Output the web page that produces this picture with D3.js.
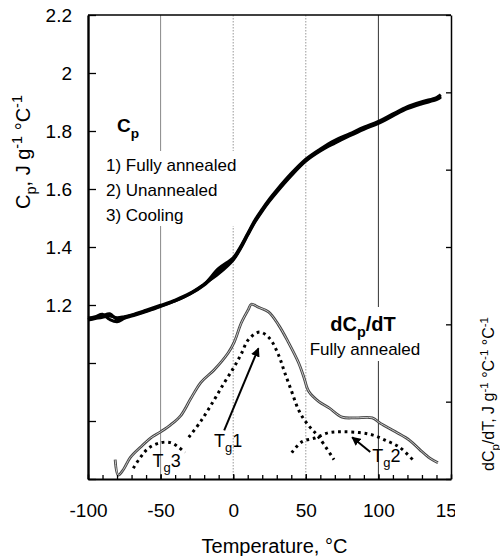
<!DOCTYPE html>
<html>
<head>
<meta charset="utf-8">
<script src="https://cdn.jsdelivr.net/npm/d3@7"></script>
<style>
  body { margin: 0; background: #fff; }
  svg { display: block; }
  text { font-family: "Liberation Sans", Arial, sans-serif; fill: #000; }
</style>
</head>
<body>
<div id="chart"></div>
<script>
// Cp curves (three runs nearly on top of each other)
const tempCp = [-100, -95, -90, -85, -80, -75, -70, -60, -50, -40, -30, -20, -10, 0, 5, 10, 15, 20, 25, 30, 40, 50, 60, 70, 80, 90, 100, 110, 120, 130, 140, 143];
const cpAnnealed = [1.150, 1.156, 1.163, 1.170, 1.150, 1.157, 1.164, 1.179, 1.196, 1.214, 1.237, 1.269, 1.316, 1.358, 1.397, 1.444, 1.489, 1.527, 1.561, 1.592, 1.649, 1.699, 1.734, 1.761, 1.786, 1.809, 1.829, 1.855, 1.880, 1.897, 1.911, 1.920];
const cpUnannealed = [1.155, 1.160, 1.168, 1.150, 1.142, 1.154, 1.162, 1.177, 1.195, 1.214, 1.238, 1.271, 1.326, 1.363, 1.401, 1.447, 1.493, 1.531, 1.566, 1.597, 1.654, 1.703, 1.738, 1.768, 1.790, 1.813, 1.833, 1.859, 1.884, 1.901, 1.915, 1.925];
const cpCooling = [1.148, 1.153, 1.158, 1.162, 1.156, 1.160, 1.166, 1.182, 1.199, 1.217, 1.240, 1.272, 1.308, 1.355, 1.394, 1.441, 1.486, 1.524, 1.558, 1.589, 1.646, 1.696, 1.731, 1.758, 1.783, 1.806, 1.826, 1.852, 1.877, 1.894, 1.908, 1.916];

// dCp/dT, fully annealed (right axis, arbitrary units)
const tempD = [-81.3, -79.2, -75.7, -70.8, -63.9, -56.9, -50, -43.1, -36.1, -29.2, -22.2, -13.2, -3.5, 0.7, 5.6, 10.4, 12.5, 17.4, 24.3, 31.3, 38.2, 45.1, 48.6, 52.1, 59, 66, 75, 84, 95.8, 101.4, 111.8, 121.5, 128.5, 135.4, 141];
const dCp = [0.25, 0.05, 0.12, 0.28, 0.41, 0.53, 0.61, 0.70, 0.82, 1.04, 1.25, 1.41, 1.63, 1.77, 2.02, 2.19, 2.26, 2.22, 2.16, 1.99, 1.76, 1.50, 1.32, 1.13, 1.00, 0.92, 0.80, 0.79, 0.79, 0.72, 0.61, 0.50, 0.38, 0.27, 0.21];

// fitted glass transition peaks (dotted)
const tempTg1 = [-30.6, -22.2, -13.2, -6.3, 0.7, 5.6, 10.4, 18.1, 25, 31.3, 35.4, 40.3, 45.1, 50.7, 59, 69.4];
const tg1 = [0.54, 0.75, 1.02, 1.24, 1.45, 1.62, 1.80, 1.90, 1.82, 1.60, 1.38, 1.13, 0.89, 0.72, 0.54, 0.25];
const tempTg2 = [40.3, 47.2, 56.3, 66, 75, 86.8, 95.8, 104.9, 114.6, 123.6];
const tg2 = [0.34, 0.48, 0.53, 0.60, 0.61, 0.60, 0.57, 0.50, 0.41, 0.25];
const tempTg3 = [-68.8, -63.9, -58.3, -50, -43.1, -37.5, -33.3];
const tg3 = [0.14, 0.28, 0.40, 0.47, 0.47, 0.41, 0.34];

// axes
const xTicks = [-100, -50, 0, 50, 100, 150];
const xTickLabels = ["-100", "-50", "0", "50", "100", "150"];
const xMinorTicks = [-100, -90, -80, -70, -60, -50, -40, -30, -20, -10, 0, 10, 20, 30, 40, 50, 60, 70, 80, 90, 100, 110, 120, 130, 140, 150];
const yTicks = [0.6, 0.8, 1.0, 1.2, 1.4, 1.6, 1.8, 2.0, 2.2];
const yTickLabels = ["", "", "", "1.2", "1.4", "1.6", "1.8", "2", "2.2"];
const rTicks = [0, 1, 2, 3, 4, 5, 6];
const gridTemps = [-50, 0, 50, 100];

// annotation anchors in data units [T, dCp]
const tgLabels = ["1", "2", "3"];
const tgLabelPos = [[-13.2, 0.42], [95.8, 0.22], [-55.6, 0.16]];
const arrowFrom = [[-6.2, 0.63], [94.4, 0.35]];
const arrowTo = [[17.4, 1.69], [81.9, 0.54]];

const width = 500, height = 556;
const margin = { top: 15, right: 49, bottom: 77, left: 88 };

const svg = d3.select("#chart").append("svg")
    .attr("width", width)
    .attr("height", height);

const x = d3.scaleLinear().domain([-100, 150]).range([margin.left, width - margin.right]);
const y = d3.scaleLinear().domain([0.6, 2.2]).range([height - margin.bottom, margin.top]);
const yR = d3.scaleLinear().domain([0, 6]).range([height - margin.bottom, margin.top]);

// text with sub/superscripts
function rich(sel, parts, fs) {
    let shift = 0;
    parts.forEach(([t, k]) => {
        const target = k === "sub" ? fs * 0.3 : k === "sup" ? -fs * 0.4 : 0;
        sel.append("tspan")
            .attr("dy", target - shift)
            .style("font-size", (k === "n" ? fs : fs * 0.72) + "px")
            .text(t);
        shift = target;
    });
    return sel;
}

// vertical grid lines
const gridStyle = [
    { stroke: "#888", dash: null },
    { stroke: "#999", dash: "1.5,1.5" },
    { stroke: "#999", dash: "1.5,1.5" },
    { stroke: "#333", dash: null }
];
svg.append("g").selectAll("line")
    .data(gridTemps)
    .join("line")
    .attr("x1", d => x(d)).attr("x2", d => x(d))
    .attr("y1", y(2.2)).attr("y2", y(0.6))
    .attr("stroke", (d, i) => gridStyle[i].stroke)
    .attr("stroke-dasharray", (d, i) => gridStyle[i].dash)
    .attr("stroke-width", 1);

// legend blocks (white boxes cover the grid lines)
const legendLeft = svg.append("g");
const legendRight = svg.append("g");

rich(legendLeft.append("text").attr("x", 117).attr("y", 132).style("font-weight", "bold"),
    [["C", "n"], ["p", "sub"]], 19);
const legendLines = legendLeft.append("g");
["1) Fully annealed", "2) Unannealed", "3) Cooling"].forEach((t, i) => {
    legendLines.append("text")
        .attr("x", 106).attr("y", 171 + i * 25)
        .style("font-size", "17px")
        .text(t);
});
const lb = legendLines.node().getBBox();
legendLines.insert("rect", ":first-child")
    .attr("x", lb.x - 4).attr("y", lb.y - 5)
    .attr("width", lb.width + 8).attr("height", lb.height + 6)
    .attr("fill", "#fff");

rich(legendRight.append("text").attr("x", 363).attr("y", 331)
        .attr("text-anchor", "middle").style("font-weight", "bold"),
    [["dC", "n"], ["p", "sub"], ["/dT", "n"]], 20);
legendRight.append("text")
    .attr("x", 365).attr("y", 355)
    .attr("text-anchor", "middle")
    .style("font-size", "17px")
    .text("Fully annealed");
const rb = legendRight.node().getBBox();
legendRight.insert("rect", ":first-child")
    .attr("x", rb.x - 4).attr("y", rb.y - 6)
    .attr("width", rb.width + 8).attr("height", rb.height + 8)
    .attr("fill", "#fff");

// Cp curves
const cpLine = d3.line()
    .x(d => x(d[0]))
    .y(d => y(d[1]))
    .curve(d3.curveCatmullRom);

[cpAnnealed, cpUnannealed, cpCooling].forEach(series => {
    svg.append("path")
        .datum(tempCp.map((t, i) => [t, series[i]]))
        .attr("d", cpLine)
        .attr("fill", "none")
        .attr("stroke", "#000")
        .attr("stroke-width", 3);
});

// dCp/dT curve
const dLine = d3.line()
    .x(d => x(d[0]))
    .y(d => yR(d[1]))
    .curve(d3.curveCatmullRom);

const dData = tempD.map((t, i) => [t, dCp[i]]);
svg.append("path").datum(dData)
    .attr("d", dLine).attr("fill", "none")
    .attr("stroke", "#444").attr("stroke-width", 2.8);
svg.append("path").datum(dData)
    .attr("d", dLine).attr("fill", "none")
    .attr("stroke", "#c8c8c8").attr("stroke-width", 1);

// dotted Tg peaks
[[tempTg1, tg1], [tempTg2, tg2], [tempTg3, tg3]].forEach(([ts, vs]) => {
    svg.append("path")
        .datum(ts.map((t, i) => [t, vs[i]]))
        .attr("d", dLine)
        .attr("fill", "none")
        .attr("stroke", "#000")
        .attr("stroke-width", 3)
        .attr("stroke-dasharray", "2.8,3.8");
});

// arrows
svg.append("defs").append("marker")
    .attr("id", "head")
    .attr("viewBox", "0 0 10 10")
    .attr("refX", 9).attr("refY", 5)
    .attr("markerWidth", 9).attr("markerHeight", 9)
    .attr("markerUnits", "userSpaceOnUse")
    .attr("orient", "auto")
    .append("path")
    .attr("d", "M0,0 L10,5 L0,10 z")
    .attr("fill", "#000");

svg.append("g").selectAll("line")
    .data(arrowFrom)
    .join("line")
    .attr("x1", d => x(d[0])).attr("y1", d => yR(d[1]))
    .attr("x2", (d, i) => x(arrowTo[i][0])).attr("y2", (d, i) => yR(arrowTo[i][1]))
    .attr("stroke", "#000")
    .attr("stroke-width", 2)
    .attr("marker-end", "url(#head)");

tgLabels.forEach((n, i) => {
    rich(svg.append("text")
            .attr("x", x(tgLabelPos[i][0]))
            .attr("y", yR(tgLabelPos[i][1])),
        [["T", "n"], ["g", "sub"], [n, "n"]], 18);
});

// axes
const xAxis = svg.append("g")
    .attr("transform", `translate(0,${height - margin.bottom})`)
    .attr("clip-path", "url(#xclip)")
    .call(d3.axisBottom(x)
        .tickValues(xTicks)
        .tickSizeInner(-5)
        .tickSizeOuter(0)
        .tickPadding(25)
        .tickFormat((d, i) => xTickLabels[i]));
svg.select("defs").append("clipPath").attr("id", "xclip")
    .append("rect")
    .attr("x", 0).attr("y", -20)
    .attr("width", 455).attr("height", 80);

svg.append("g")
    .attr("transform", `translate(0,${height - margin.bottom})`)
    .call(d3.axisBottom(x)
        .tickValues(xMinorTicks)
        .tickSizeInner(-4)
        .tickSizeOuter(0)
        .tickFormat(""))
    .select(".domain").remove();

const yAxis = svg.append("g")
    .attr("transform", `translate(${margin.left},0)`)
    .call(d3.axisLeft(y)
        .tickValues(yTicks)
        .tickSizeInner(-8)
        .tickSizeOuter(0)
        .tickPadding(16)
        .tickFormat((d, i) => yTickLabels[i]));

const rAxis = svg.append("g")
    .attr("transform", `translate(${width - margin.right},0)`)
    .call(d3.axisRight(yR)
        .tickValues(rTicks)
        .tickSizeInner(-5)
        .tickSizeOuter(0)
        .tickFormat(""));

svg.selectAll(".tick text")
    .style("font-family", "'Liberation Sans', Arial, sans-serif")
    .style("font-size", "19px")
    .attr("fill", "#000");
svg.selectAll(".tick line").attr("stroke", "#000").attr("stroke-width", 1.3);
xAxis.select(".domain").attr("stroke-width", 2.2);
yAxis.select(".domain").attr("stroke-width", 2.4);
rAxis.select(".domain").attr("stroke-width", 1.5);

// top frame
svg.append("line")
    .attr("x1", x(-100)).attr("x2", x(150))
    .attr("y1", y(2.2)).attr("y2", y(2.2))
    .attr("stroke", "#000").attr("stroke-width", 1.5);

// axis titles
svg.append("text")
    .attr("x", (x(-100) + x(150)) / 2 + 5)
    .attr("y", 553)
    .attr("text-anchor", "middle")
    .style("font-size", "20px")
    .text("Temperature, °C");

rich(svg.append("text")
        .attr("transform", "translate(30,152) rotate(-90)")
        .attr("text-anchor", "middle"),
    [["C", "n"], ["p", "sub"], [", J g", "n"], ["-1", "sup"], [" °C", "n"], ["-1", "sup"]], 20);

rich(svg.append("text")
        .attr("transform", "translate(494,394) rotate(-90)")
        .attr("text-anchor", "middle"),
    [["dC", "n"], ["p", "sub"], ["/dT, J g", "n"], ["-1", "sup"], [" °C", "n"], ["-1", "sup"], [" °C", "n"], ["-1", "sup"]], 16);
</script>
</body>
</html>
